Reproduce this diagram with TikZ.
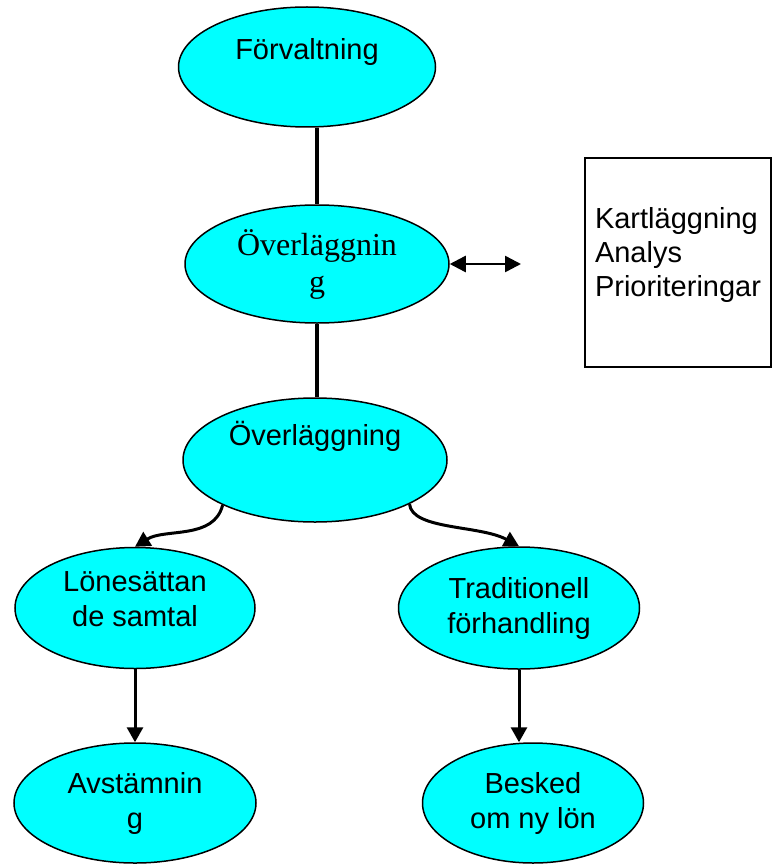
\documentclass[tikz,border=0pt]{standalone}
\usepackage{fontspec}
\setmainfont{Liberation Sans}
\newfontfamily\timesfont{Liberation Serif}
\usetikzlibrary{shapes.geometric,arrows.meta}
\definecolor{aqua}{RGB}{0,255,255}

\begin{document}
\begin{tikzpicture}[x=1pt,y=-1pt,
    bubble/.style={ellipse,draw=black,line width=1.5pt,fill=aqua,inner sep=0pt,align=center,
      font=\fontsize{29}{35}\selectfont},
    link/.style={line width=3.5pt},
    arr/.style={line width=3pt,-{Triangle[width=16pt,length=15pt]}},
    twoway/.style={line width=2.5pt,{Triangle[width=16pt,length=16pt]}-{Triangle[width=16pt,length=16pt]}}]
      \useasboundingbox (0,0) rectangle (773,864);

      \node (forv) [bubble,minimum width=257pt,minimum height=120pt,text height=21pt,text depth=35pt] at (307,67) {Förvaltning};
      \node (over1) [bubble,minimum width=264pt,minimum height=118pt,font=\timesfont\fontsize{32}{37}\selectfont] at (317,264) {Överläggnin\\g};
      \node (over2) [bubble,minimum width=264pt,minimum height=124pt,text height=21pt,text depth=51pt] at (315,460) {Överläggning};
      \node (lon) [bubble,minimum width=240pt,minimum height=121pt,text depth=18pt] at (135,608) {Lönesättan\\de samtal};
      \node (trad) [bubble,minimum width=241pt,minimum height=122pt] at (519,608) {Traditionell\\förhandling};
      \node (avst) [bubble,minimum width=242pt,minimum height=120pt] at (135,803) {Avstämnin\\g};
      \node (besk) [bubble,minimum width=221pt,minimum height=120pt] at (533,803) {Besked\\om ny lön};

      \node (kart) [draw,line width=1.5pt,minimum width=186pt,minimum height=209pt,align=left,
        font=\fontsize{29}{34}\selectfont,text height=89pt,text depth=22pt] at (678,262.5) {Kartläggning\\Analys\\Prioriteringar};
      \coordinate (kend) at (521,264);

      \draw[link] (forv.south -| over1.north) -- (over1.north);
      \draw[link] (over1.south) -- (over1.south |- over2.north);
      \draw[twoway] (over1.east) -- (kend);

      \draw[arr] (over2.206) .. controls (214,540) and (165,528) .. (lon.north);
      \draw[arr] (over2.-25) .. controls (412,530) and (480,525) .. (trad.north);
      \draw[arr] (lon.south) -- (avst.north);
      \draw[arr] (trad.south) -- (trad.south |- besk.north);
    \end{tikzpicture}
\end{document}
